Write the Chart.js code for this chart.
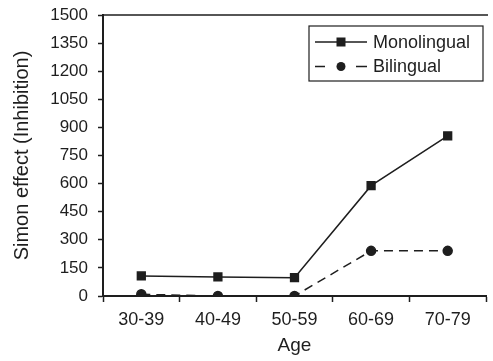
<!DOCTYPE html>
<html>
<head>
<meta charset="utf-8">
<script src="https://cdn.jsdelivr.net/npm/chart.js@4/dist/chart.umd.min.js"></script>
<style>
  html, body { margin: 0; padding: 0; background: #fff; }
  #wrap { width: 493px; height: 361px; }
</style>
</head>
<body>
<div id="wrap"><canvas id="c" width="493" height="361"></canvas></div>
<script>
// Age groups on the x axis
const ageGroups = ['30-39', '40-49', '50-59', '60-69', '70-79'];
// Simon effect (inhibition) per group
const monolingual = [107, 102, 98, 589, 855];
const bilingual = [9, 0, 0, 241, 241];
// Y axis range
const yMin = 0;
const yMax = 1500;
const yStep = 150;

const ink = '#1e1e1e';
const fontFamily = '"Liberation Sans", Arial, Helvetica, sans-serif';

// Boxed legend drawn inside the plot, top-right
const boxedLegend = {
  id: 'boxedLegend',
  afterDraw(chart) {
    const ctx = chart.ctx;
    const x0 = 309, y0 = 26, w = 174, h = 55;
    ctx.save();
    ctx.fillStyle = '#fff';
    ctx.fillRect(x0, y0, w, h);
    ctx.strokeStyle = ink;
    ctx.lineWidth = 1.2;
    ctx.strokeRect(x0, y0, w, h);
    ctx.font = '18px ' + fontFamily;
    ctx.textBaseline = 'middle';
    chart.data.datasets.forEach((ds, i) => {
      const cy = y0 + 16 + i * 24.5;
      const lx0 = x0 + 6, lx1 = x0 + 58;
      const mx = (lx0 + lx1) / 2;
      ctx.strokeStyle = ink;
      ctx.lineWidth = 1.5;
      ctx.beginPath();
      if (ds.borderDash) {
        // short dash on each side of the marker
        ctx.moveTo(lx0, cy); ctx.lineTo(lx0 + 10, cy);
        ctx.moveTo(lx1 - 11, cy); ctx.lineTo(lx1, cy);
      } else {
        ctx.moveTo(lx0, cy); ctx.lineTo(lx1, cy);
      }
      ctx.stroke();
      ctx.fillStyle = ink;
      if (ds.pointStyle === 'rect') {
        ctx.fillRect(mx - 4.5, cy - 4.5, 9, 9);
      } else {
        ctx.beginPath();
        ctx.arc(mx, cy, 4.5, 0, Math.PI * 2);
        ctx.fill();
      }
      ctx.fillText(ds.label, x0 + 64, cy + 1);
    });
    ctx.restore();
  }
};

// Top frame line of the plot area
const topFrame = {
  id: 'topFrame',
  beforeDatasetsDraw(chart) {
    const ctx = chart.ctx;
    const a = chart.chartArea;
    ctx.save();
    ctx.strokeStyle = ink;
    ctx.lineWidth = 1.5;
    ctx.beginPath();
    ctx.moveTo(a.left, a.top);
    ctx.lineTo(a.right + 2, a.top);
    ctx.stroke();
    ctx.restore();
  }
};

new Chart(document.getElementById('c'), {
  type: 'line',
  data: {
    labels: ageGroups,
    datasets: [
      {
        label: 'Monolingual',
        data: monolingual,
        borderColor: ink,
        backgroundColor: ink,
        borderWidth: 1.5,
        pointStyle: 'rect',
        pointRadius: 5.5,
        pointBackgroundColor: ink,
        pointBorderColor: ink,
        tension: 0,
        fill: false
      },
      {
        label: 'Bilingual',
        data: bilingual,
        borderColor: ink,
        backgroundColor: ink,
        borderWidth: 1.5,
        borderDash: [9, 6],
        pointStyle: 'circle',
        pointRadius: 4.5,
        pointBackgroundColor: ink,
        pointBorderColor: ink,
        tension: 0,
        fill: false
      }
    ]
  },
  options: {
    responsive: false,
    animation: false,
    devicePixelRatio: 1,
    layout: { padding: { top: 15, right: 2, left: 0, bottom: 2 } },
    plugins: {
      legend: { display: false },
      tooltip: { enabled: false }
    },
    scales: {
      x: {
        type: 'category',
        offset: true,
        grid: {
          offset: true,
          drawOnChartArea: false,
          drawTicks: true,
          tickLength: 6,
          tickWidth: 1.5,
          color: ink
        },
        border: { display: true, color: ink, width: 2 },
        ticks: {
          color: ink,
          padding: 7,
          font: { family: fontFamily, size: 18 },
          maxRotation: 0
        },
        title: {
          display: true,
          text: 'Age',
          color: ink,
          font: { family: fontFamily, size: 19 },
          padding: { top: 0, bottom: 2 }
        },
        afterFit(scale) { scale.height = 63; }
      },
      y: {
        min: yMin,
        max: yMax,
        grid: {
          drawOnChartArea: false,
          drawTicks: true,
          tickLength: 5,
          tickWidth: 1.5,
          color: ink
        },
        border: { display: true, color: ink, width: 2 },
        ticks: {
          stepSize: yStep,
          color: ink,
          padding: 10,
          font: { family: fontFamily, size: 17 },
          callback: (v) => String(v)
        },
        title: {
          display: true,
          text: 'Simon effect (Inhibition)',
          color: ink,
          font: { family: fontFamily, size: 20 },
          padding: { top: 10, bottom: 0 }
        },
        afterFit(scale) {
          scale.width = 103;
          scale.paddingTop = 0;
          scale.paddingBottom = 0;
        }
      }
    }
  },
  plugins: [topFrame, boxedLegend]
});
</script>
</body>
</html>
